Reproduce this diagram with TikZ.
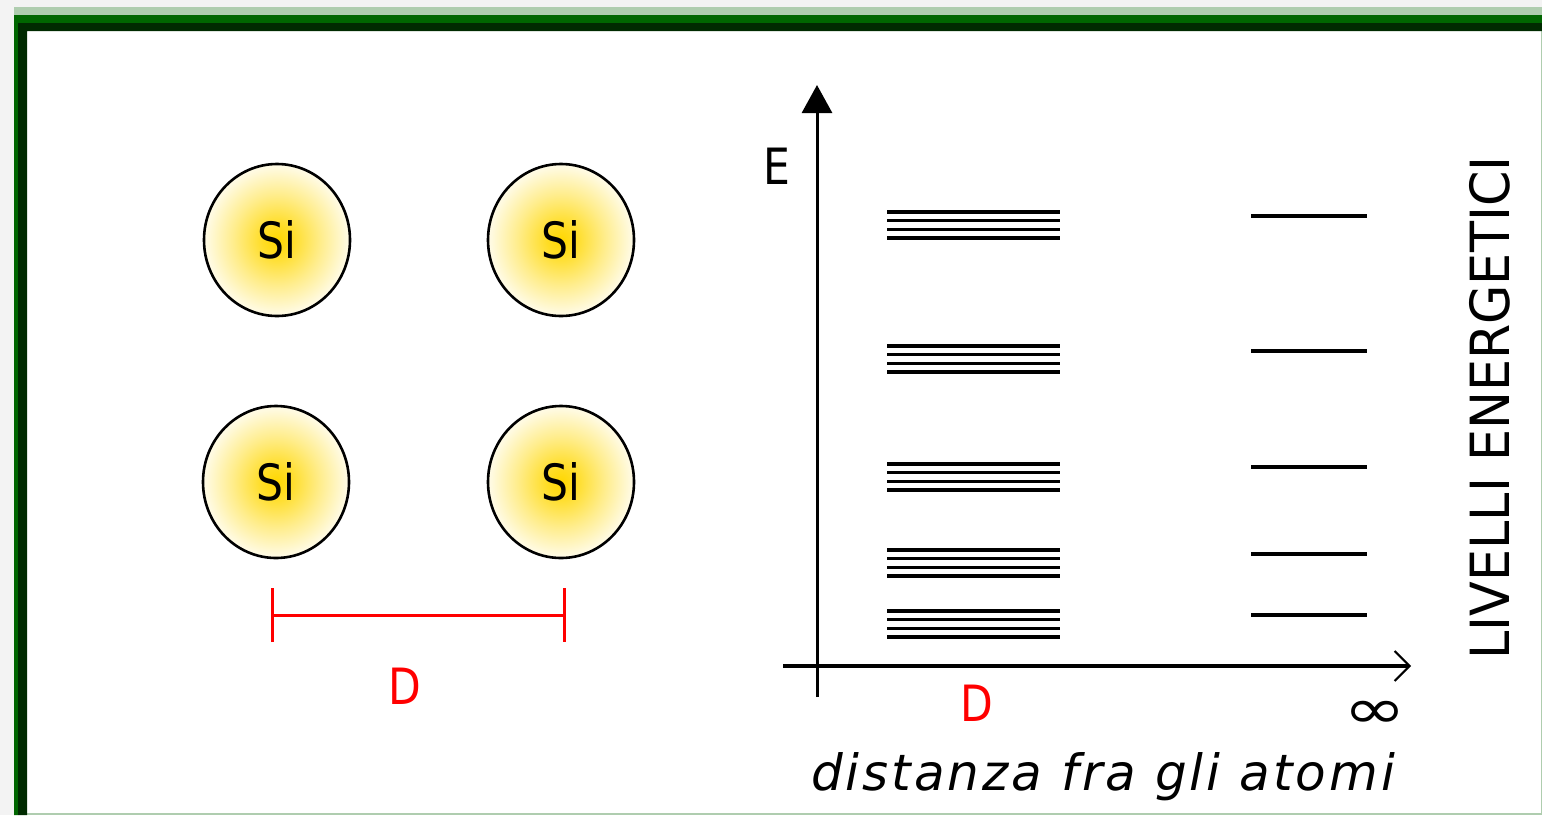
\documentclass[tikz,border=0pt]{standalone}
\usepackage{fontspec}
\setmainfont{DejaVu Sans}
\newfontfamily\pixsans{DejaVu Sans}[FakeStretch=0.85]
\newfontfamily\pixtall{DejaVu Sans}[FakeStretch=0.94]
\newfontfamily\pixwide{DejaVu Sans}[FakeStretch=1.35]
\newfontfamily\pixslant{DejaVu Sans}[LetterSpace=6]
\usetikzlibrary{arrows.meta,shapes.geometric}

\definecolor{pagegray}{HTML}{F3F3F3}
\definecolor{frameout}{HTML}{AFCDAF}
\definecolor{framemid}{HTML}{006600}
\definecolor{frameinn}{HTML}{002A00}
\definecolor{sunny}{HTML}{FFD700}
\definecolor{dimred}{HTML}{FF0000}
\colorlet{glowin}{sunny!85!white}
\colorlet{glowmid}{sunny!45!white}
\colorlet{glowout}{sunny!12!white}
\pgfdeclareradialshading{atomglow}{\pgfpoint{0bp}{0bp}}{%
  color(0bp)=(sunny); color(5bp)=(glowin); color(15bp)=(glowmid);
  color(24bp)=(glowout); color(30bp)=(white); color(50bp)=(white)}

\begin{document}
\begin{tikzpicture}[x=0.5pt, y=-0.5pt,
  atom/.style={ellipse, draw, line width=1.3pt, minimum width=73pt, minimum height=76pt,
    shading=atomglow, inner sep=0pt, font=\pixsans\fontsize{25}{25}\selectfont},
  band/.style={line width=1.8pt},
  level/.style={line width=1.6pt},
  dim/.style={draw=dimred, line width=1.5pt, {Bar[width=27pt]}-{Bar[width=27pt]}},
  lbl/.style={inner sep=0pt, font=\pixsans\fontsize{25}{25}\selectfont}]
\useasboundingbox (0,0) rectangle (1542,815);
% ---------------- window frame ----------------
\fill[pagegray] (0,0) rectangle (1542,815);
\fill[frameout] (14,7) rectangle (1542,815);
\fill[white] (27,31) rectangle (1541,813);
\fill[framemid] (14,15) rectangle (1542,23) (14,23) rectangle (18,815);
\fill[frameinn] (18,23) rectangle (1542,31) (18,31) rectangle (27,815);
% ---------------- silicon lattice ----------------
\node[atom] (si1) at (277,240) {Si};
\node[atom] (si2) at (561,240) {Si};
\node[atom] (si3) at (276,482) {Si};
\node[atom] (si4) at (561,482) {Si};
\coordinate (dL) at (271,615);
\coordinate (dR) at (566,615);
\draw[dim] (dL) -- (dR);
\node[lbl, text=dimred, anchor=base] (dlat) at (405,704) {D};
% ---------------- energy axes ----------------
\coordinate (ybot) at (817,697);
\coordinate (ytop) at (817,85);
\coordinate (xleft) at (783,666);
\coordinate (xright) at (1411,666);
\draw[line width=1.5pt, -{Triangle[width=15pt,length=14pt]}] (ybot) -- (ytop);
\draw[line width=2pt, -{Straight Barb[length=7.5pt,width=15pt,line width=1pt]}] (xleft) -- (xright);
\node[lbl, anchor=base] (elbl) at (777,184) {E};
% bands at distance D, single levels far apart
\foreach \y/\s in {212/216, 346/351, 464/467, 550/554, 611/615} {
  \foreach \k in {0,...,3}
    \draw[band] (887,\y+8.67*\k) -- (1060,\y+8.67*\k);
  \draw[level] (1251,\s) -- (1367,\s);
}
\node[lbl, text=dimred, anchor=base] (dband) at (977,721) {D};
\node[inner sep=0pt, font=\pixwide\fontsize{28}{28}\selectfont] (inf) at (1375,715) {∞};
\node[inner sep=0pt, anchor=base, font=\pixslant\itshape\fontsize{25}{25}\selectfont] (xlbl) at (1103,790) {distanza fra gli atomi};
\node[inner sep=0pt, rotate=90, font=\pixtall\fontsize{27}{27}\selectfont] (ylbl) at (1490,408) {LIVELLI ENERGETICI};
\end{tikzpicture}
\end{document}
